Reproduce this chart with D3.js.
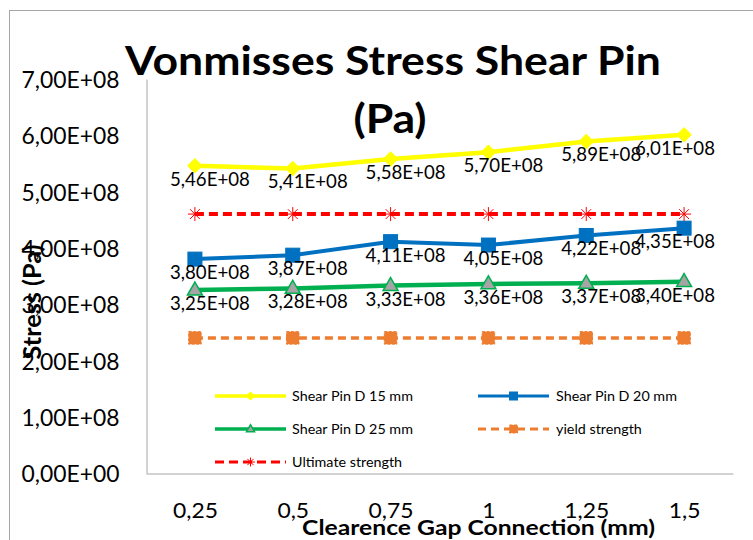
<!DOCTYPE html>
<html>
<head>
<meta charset="utf-8">
<script src="https://cdn.jsdelivr.net/npm/d3@7"></script>
<style>
  html, body { margin: 0; padding: 0; background: #fff; }
  svg { display: block; }
</style>
</head>
<body>
<div id="chart"></div>
<script>
// ---------- data ----------
const categories = ["0,25", "0,5", "0,75", "1", "1,25", "1,5"];
const shearPinD15 = [5.46e8, 5.41e8, 5.58e8, 5.70e8, 5.89e8, 6.01e8];
const shearPinD20 = [3.80e8, 3.87e8, 4.11e8, 4.05e8, 4.22e8, 4.35e8];
const shearPinD25 = [3.25e8, 3.28e8, 3.33e8, 3.36e8, 3.37e8, 3.40e8];
const yieldStrength = [2.4e8, 2.4e8, 2.4e8, 2.4e8, 2.4e8, 2.4e8];
const ultimateStrength = [4.6e8, 4.6e8, 4.6e8, 4.6e8, 4.6e8, 4.6e8];
const yTicks = [0, 1e8, 2e8, 3e8, 4e8, 5e8, 6e8, 7e8];
const yTickLabels = ["0,00E+00", "1,00E+08", "2,00E+08", "3,00E+08", "4,00E+08", "5,00E+08", "6,00E+08", "7,00E+08"];
const titleLines = ["Vonmisses Stress Shear Pin", "(Pa)"];
const xTitle = "Clearence Gap Connection (mm)";
const yTitle = "Stress (Pa)";

// ---------- setup ----------
const W = 753, H = 540;
const FONT = "Lato, 'Open Sans', 'DejaVu Sans', sans-serif";
const svg = d3.select("#chart").append("svg").attr("width", W).attr("height", H)
  .style("font-family", FONT);

// measuring helper
const meas = svg.append("text").attr("x", -1000).attr("y", -1000);
function measure(str, size, weight) {
  meas.attr("font-size", size).attr("font-weight", weight).text(str);
  return meas.node().getComputedTextLength();
}
function makeStyle(ref, size, weight, target) {
  return { size, weight, sx: target / measure(ref, size, weight) };
}
const st = {
  title: makeStyle(titleLines[0], 40, "bold", 536),
  xTitle: makeStyle(xTitle, 21, "bold", 353),
  yTitle: makeStyle(yTitle, 25, "bold", 115),
  yTick: makeStyle("7,00E+08", 24, "normal", 98),
  xTick: makeStyle("0,25", 22, "normal", 45),
  label: makeStyle("3,80E+08", 19, "normal", 80),
  legend: makeStyle("Shear Pin D 15 mm", 14, "normal", 121)
};
function addText(g, str, x, y, s, anchor, rotate) {
  return g.append("text")
    .attr("transform", `translate(${x},${y})${rotate ? " rotate(-90)" : ""} scale(${s.sx},1)`)
    .attr("text-anchor", anchor)
    .attr("font-size", s.size)
    .attr("font-weight", s.weight)
    .attr("fill", "#000")
    .text(str);
}

// outer chart border
svg.append("rect").attr("x", 9.5).attr("y", 10.5).attr("width", W + 20).attr("height", H + 20)
  .attr("fill", "none").attr("stroke", "#a6a6a6").attr("stroke-width", 1);

// ---------- scales ----------
const plotL = 146, plotR = 733, plotT = 79, plotB = 473;
const x = d3.scalePoint().domain(categories).range([plotL, plotR]).padding(0.5);
const y = d3.scaleLinear().domain([0, 7e8]).range([plotB, plotT]);

// ---------- axes ----------
const yAxis = svg.append("g").attr("transform", `translate(${plotL + 0.5},0)`)
  .call(d3.axisLeft(y).tickValues(yTicks).tickFormat((d, i) => yTickLabels[i]).tickSize(0).tickSizeOuter(0).tickPadding(27));
yAxis.select(".domain").attr("stroke", "#a6a6a6");
yAxis.selectAll("text")
  .attr("x", 0).attr("dy", "0.36em")
  .attr("transform", `translate(-27,0) scale(${st.yTick.sx},1)`)
  .attr("font-size", st.yTick.size).attr("font-family", FONT).attr("fill", "#000");

const xAxis = svg.append("g").attr("transform", `translate(0,${plotB + 0.5})`)
  .call(d3.axisBottom(x).tickSize(0).tickSizeOuter(0));
xAxis.select(".domain").attr("stroke", "#a6a6a6");
xAxis.selectAll("text")
  .attr("y", 0).attr("dy", null)
  .attr("transform", `translate(0,44) scale(${st.xTick.sx},1)`)
  .attr("font-size", st.xTick.size).attr("font-family", FONT).attr("fill", "#000");

// ---------- titles ----------
addText(svg, titleLines[0], 393, 75, st.title, "middle");
addText(svg, titleLines[1], 390, 133, st.title, "middle");
addText(svg, xTitle, 478.5, 535, st.xTitle, "middle");
addText(svg, yTitle, 41, 302, st.yTitle, "middle", true);

// ---------- series ----------
const starPath = r => `M${-r},0H${r}M0,${-r}V${r}M${-r * 0.7},${-r * 0.7}L${r * 0.7},${r * 0.7}M${-r * 0.7},${r * 0.7}L${r * 0.7},${-r * 0.7}`;
const series = [
  { name: "Shear Pin D 15 mm", values: shearPinD15, color: "#FFFF00", width: 4.5, dash: null,
    marker: "diamond", size: 10, legendSize: 5.5, labels: true },
  { name: "Shear Pin D 20 mm", values: shearPinD20, color: "#0070C0", width: 4, dash: null,
    marker: "square", size: 14, legendSize: 8, labels: true },
  { name: "Shear Pin D 25 mm", values: shearPinD25, color: "#00B050", width: 4.5, dash: null,
    marker: "triangle", size: 15, legendSize: 8, labels: true },
  { name: "yield strength", values: yieldStrength, color: "#ED7D31", width: 3.5, dash: "8,5",
    marker: "square", size: 12.5, legendSize: 8, labels: false },
  { name: "Ultimate strength", values: ultimateStrength, color: "#FF0000", width: 4, dash: "9,5",
    marker: "star", size: 7, legendSize: 4.5, labels: false }
];

function drawMarker(g, s, cx, cy, size) {
  if (s.marker === "diamond") {
    g.append("rect").attr("x", -size / 2).attr("y", -size / 2).attr("width", size).attr("height", size)
      .attr("transform", `translate(${cx},${cy}) rotate(45)`).attr("fill", s.color).attr("stroke", s.color).attr("stroke-width", 1);
  } else if (s.marker === "square") {
    g.append("rect").attr("x", cx - size / 2).attr("y", cy - size / 2).attr("width", size).attr("height", size)
      .attr("fill", s.color).attr("stroke", s.color).attr("stroke-width", 1)
      .attr("stroke-dasharray", s.dash ? "3,1.5" : null);
  } else if (s.marker === "triangle") {
    const h = size * Math.sqrt(3) / 2;
    g.append("path").attr("d", `M${cx},${cy - h * 0.62}L${cx + size / 2},${cy + h * 0.38}L${cx - size / 2},${cy + h * 0.38}Z`)
      .attr("fill", "#A5A5A5").attr("stroke", s.color).attr("stroke-width", 1.5);
  } else if (s.marker === "star") {
    g.append("path").attr("d", starPath(size)).attr("transform", `translate(${cx},${cy})`)
      .attr("fill", "none").attr("stroke", s.color).attr("stroke-width", 1);
  }
}

const line = d3.line().x((d, i) => x(categories[i])).y(d => y(d));
const gSeries = svg.append("g");
series.forEach(s => {
  const g = gSeries.append("g");
  g.append("path").attr("d", line(s.values)).attr("fill", "none")
    .attr("stroke", s.color).attr("stroke-width", s.width)
    .attr("stroke-dasharray", s.dash).attr("stroke-linejoin", "round");
  s.values.forEach((v, i) => drawMarker(g, s, x(categories[i]), y(v), s.size));
});

// ---------- data labels ----------
const fmt = v => (v / 1e8).toFixed(2).replace(".", ",") + "E+08";
const gLabels = svg.append("g");
series.filter(s => s.labels).forEach(s => {
  s.values.forEach((v, i) => {
    const str = fmt(v);
    const w = measure(str, st.label.size, st.label.weight) * st.label.sx;
    const cx = Math.min(x(categories[i]) + 15, 715 - w / 2);
    addText(gLabels, str, cx, y(v) + 20, st.label, "middle");
  });
});

// ---------- legend ----------
const legendPos = [
  { lx: 215, tx: 292, y: 396 },
  { lx: 478, tx: 556, y: 396 },
  { lx: 215, tx: 292, y: 429 },
  { lx: 478, tx: 556, y: 429 },
  { lx: 215, tx: 292, y: 462 }
];
const gLegend = svg.append("g");
series.forEach((s, i) => {
  const p = legendPos[i];
  gLegend.append("line").attr("x1", p.lx).attr("x2", p.lx + 71).attr("y1", p.y).attr("y2", p.y)
    .attr("stroke", s.color).attr("stroke-width", s.width * 0.8).attr("stroke-dasharray", s.dash);
  drawMarker(gLegend, s, p.lx + 35.5, p.y, s.legendSize);
  addText(gLegend, s.name, p.tx, p.y + 5, st.legend, "start");
});
meas.remove();
</script>
</body>
</html>
